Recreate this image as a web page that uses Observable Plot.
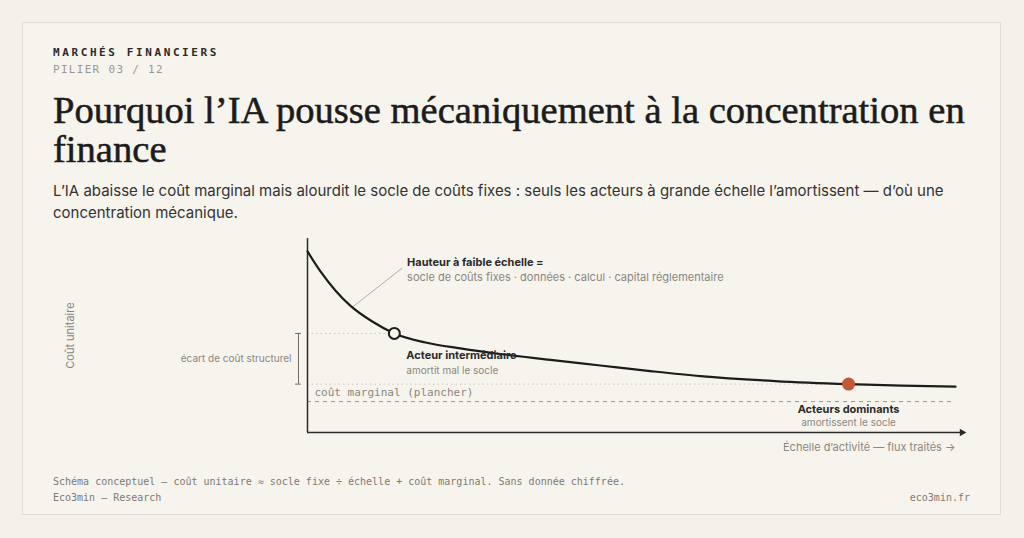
<!DOCTYPE html>
<html lang="fr">
<head>
<meta charset="utf-8">
<script src="https://cdn.jsdelivr.net/npm/d3@7"></script>
<script src="https://cdn.jsdelivr.net/npm/@observablehq/plot@0.6"></script>
<style>
  html, body { margin: 0; padding: 0; }
  body { width: 1024px; height: 538px; background: #f4f1ea; position: relative; overflow: hidden; }
  .card { position: absolute; left: 22px; top: 22px; width: 977px; height: 491px; border: 1px solid #e2ddd2; background: #f7f4ee; }
  .abs { position: absolute; white-space: nowrap; }
  .kicker { left: 53px; top: 46px; font: bold 11px/14px "DejaVu Sans Mono", monospace; letter-spacing: 2.6px; color: #2a2a2a; }
  .pilier { left: 53px; top: 63px; font: 11px/14px "DejaVu Sans Mono", monospace; letter-spacing: 1.3px; color: #9a968e; }
  .title { left: 53px; top: 90.5px; width: 935px; white-space: normal; font: 38.6px/39px "Liberation Serif", serif; color: #1c1c1c; -webkit-text-stroke: 0.55px #1c1c1c; }
  .subtitle { left: 53px; top: 180px; width: 930px; white-space: normal; font: 15px/22px Inter, sans-serif; color: #333; }
  .foot { font: 10px/16px "DejaVu Sans Mono", monospace; color: #7d7a73; }
  #chart { position: absolute; left: 0; top: 230px; }
</style>
</head>
<body>
<div class="card"></div>
<div class="abs kicker">MARCHÉS FINANCIERS</div>
<div class="abs pilier">PILIER 03 / 12</div>
<div class="abs title">Pourquoi l’IA pousse mécaniquement à la concentration en finance</div>
<div class="abs subtitle">L’IA abaisse le coût marginal mais alourdit le socle de coûts fixes : seuls les acteurs à grande échelle l’amortissent — d’où une concentration mécanique.</div>
<div id="chart"></div>
<div class="abs foot" style="left:53px; top:474px;">Schéma conceptuel — coût unitaire ≈ socle fixe ÷ échelle + coût marginal. Sans donnée chiffrée.</div>
<div class="abs foot" style="left:53px; top:490px;">Eco3min — Research</div>
<div class="abs foot" style="right:54px; top:490px;">eco3min.fr</div>
<script>
// ---- data (conceptual curve) ----
const curveX = [0, 2.0, 4.3, 6.6, 10.0, 13.4, 18.2, 23.6, 29.8, 37.5, 45.2, 52.9, 60.6, 72.2, 83.5, 91.7, 100];
const curveY = [94.3, 83.9, 74.0, 66.1, 57.8, 51.6, 46.9, 43.8, 40.9, 37.8, 34.9, 32.0, 29.4, 26.8, 25.2, 24.4, 23.9];
const intermediate = [{x: 13.4, y: 51.6}];
const dominant = [{x: 83.5, y: 25.2}];
const floorLevel = [16.1];
const leader = [{x1: 6.9, y1: 65.2, x2: 14.6, y2: 85.6}];
const axisEnd = [101.0];
const yAxisTop = [101];

const curve = curveX.map((x, i) => ({x, y: curveY[i]}));
const ink = "#1c1c1c";
const grey = "#8a867e";
const sans = "Inter, sans-serif";
const mono = "DejaVu Sans Mono, monospace";

const chart = Plot.plot({
  width: 1024,
  height: 240,
  marginLeft: 307,
  marginRight: 69,
  marginTop: 10,
  marginBottom: 38,
  x: {domain: [0, 100], axis: null},
  y: {domain: [0, 100], axis: null},
  style: {background: "transparent", overflow: "visible"},
  marks: [
    // guide lines
    Plot.ruleY(intermediate, {y: "y", x1: 0, x2: "x", stroke: "#c9c4ba", strokeDasharray: "1.5,3"}),
    Plot.ruleY(dominant, {y: "y", x1: 0, x2: "x", stroke: "#c9c4ba", strokeDasharray: "1.5,3"}),
    Plot.ruleY(floorLevel, {x1: 0, x2: 99.5, stroke: "#9d978c", strokeDasharray: "4,4"}),
    // axes
    Plot.ruleX([0], {y1: 0, y2: yAxisTop[0], stroke: "#2a2a2a", strokeWidth: 1.5}),
    Plot.ruleY([0], {x1: 0, x2: axisEnd[0], stroke: "#2a2a2a", strokeWidth: 1.5}),
    Plot.dot(axisEnd, {x: d => d, y: 0, symbol: "triangle2", r: 3.6, fill: "#2a2a2a", rotate: 90}),
    // bracket (écart structurel)
    Plot.ruleX([{y1: dominant[0].y, y2: intermediate[0].y}], {x: 0, y1: "y1", y2: "y2", dx: -9, stroke: "#6f6b64", strokeWidth: 1}),
    Plot.ruleY([dominant[0].y, intermediate[0].y], {x1: -1.85, x2: -0.93, stroke: "#6f6b64", strokeWidth: 1}),
    // leader
    Plot.link(leader, {x1: "x1", y1: "y1", x2: "x2", y2: "y2", stroke: "#b3aea4", strokeWidth: 1}),
    // curve
    Plot.line(curve, {x: "x", y: "y", curve: "monotone-x", stroke: ink, strokeWidth: 2.2}),
    // points
    Plot.dot(intermediate, {x: "x", y: "y", r: 5.5, fill: "#f7f4ee", stroke: ink, strokeWidth: 2}),
    Plot.dot(dominant, {x: "x", y: "y", r: 6.5, fill: "#c0583a"}),
    // labels
    Plot.text(leader, {x: "x2", y: "y2", text: () => "Hauteur à faible échelle =", textAnchor: "start", dx: 5, dy: -5.5, fontFamily: sans, fontWeight: 700, fontSize: 11, fill: "#2a2a2a"}),
    Plot.text(leader, {x: "x2", y: "y2", text: () => "socle de coûts fixes · données · calcul · capital réglementaire", textAnchor: "start", dx: 5, dy: 9, fontFamily: sans, fontSize: 11, fill: grey}),
    Plot.text(intermediate, {x: "x", y: "y", text: () => "Acteur intermédiaire", textAnchor: "start", dx: 12, dy: 22, fontFamily: sans, fontWeight: 700, fontSize: 11, fill: "#2a2a2a"}),
    Plot.text(intermediate, {x: "x", y: "y", text: () => "amortit mal le socle", textAnchor: "start", dx: 12, dy: 37, fontFamily: sans, fontSize: 10, fill: grey}),
    Plot.text(dominant, {x: "x", y: "y", text: () => "Acteurs dominants", textAnchor: "middle", dx: 0, dy: 25.5, fontFamily: sans, fontWeight: 700, fontSize: 11, fill: "#2a2a2a"}),
    Plot.text(dominant, {x: "x", y: "y", text: () => "amortissent le socle", textAnchor: "middle", dx: 0, dy: 38.5, fontFamily: sans, fontSize: 10, fill: grey}),
    Plot.text(floorLevel, {x: 0, y: d => d, text: () => "coût marginal (plancher)", textAnchor: "start", dx: 7, dy: -9, fontFamily: mono, fontSize: 11, fill: grey}),
    Plot.text([{y: (dominant[0].y + intermediate[0].y) / 2}], {x: 0, y: "y", text: () => "écart de coût structurel", textAnchor: "end", dx: -16, fontFamily: sans, fontSize: 10, fill: grey}),
    Plot.text([{y: 50.5}], {x: 0, y: "y", text: () => "Coût unitaire", rotate: -90, dx: -237, fontFamily: sans, fontSize: 11, fill: grey}),
    Plot.text([{x: 100}], {x: "x", y: 0, text: () => "Échelle d’activité — flux traités →", textAnchor: "end", dy: 15, fontFamily: sans, fontSize: 11, fill: grey})
  ]
});
document.getElementById("chart").appendChild(chart);
</script>
</body>
</html>
